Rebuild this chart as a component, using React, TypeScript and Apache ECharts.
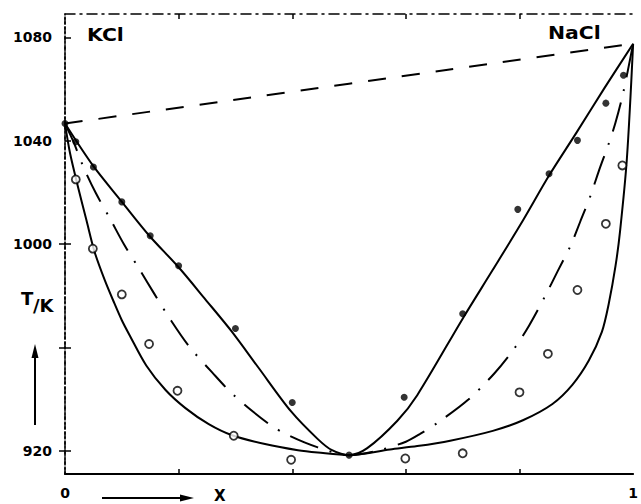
import React, { useEffect, useRef } from "react";
import * as echarts from "echarts";

// ---- data ----
const xTickValues = [0.2, 0.4, 0.6, 0.8];
const xLabelValues = [0, 1];
const yTickValues = [920, 960, 1000, 1040, 1080];
const yLabelValues = [920, 1000, 1040, 1080];
const yRightTickValues = [920, 960, 1000];

const idealLine: number[][] = [
  [0, 1046.6],
  [1, 1077.5],
];

const upperCurve: number[][] = [
  [0, 1046.6], [0.049, 1030.4], [0.099, 1016.6], [0.148, 1003.3], [0.2, 991],
  [0.247, 978.6], [0.294, 966], [0.34, 952.3], [0.398, 935.2], [0.445, 924.5],
  [0.47, 920.2], [0.5, 918.3], [0.532, 921], [0.585, 931.6], [0.62, 941.5],
  [0.701, 971.5], [0.753, 990], [0.806, 1009.1], [0.852, 1026.5], [0.9, 1043],
  [0.95, 1060.5], [1, 1077.5],
];

const lowerCurve: number[][] = [
  [0, 1046.6], [0.009, 1035], [0.023, 1022], [0.038, 1009], [0.052, 997],
  [0.07, 986], [0.087, 977], [0.1, 970.5], [0.113, 965], [0.143, 953],
  [0.177, 943.5], [0.212, 936.5], [0.253, 930.3], [0.294, 926], [0.352, 922.6],
  [0.41, 920.2], [0.445, 919.3], [0.5, 918.3], [0.572, 920.5], [0.62, 921.8],
  [0.678, 923.9], [0.753, 927.7], [0.806, 931.8], [0.858, 938.1], [0.893, 945.5],
  [0.922, 954.9], [0.945, 966], [0.957, 976.8], [0.969, 991.5], [0.977, 1005],
  [0.989, 1033], [1, 1077.5],
];

const dashDotCurve: number[][] = [
  [0, 1046.6], [0.015, 1039.5], [0.032, 1030], [0.054, 1019.8], [0.08, 1009.5],
  [0.104, 999.8], [0.131, 990.2], [0.157, 980.8], [0.186, 970.6], [0.218, 960.5],
  [0.259, 950.3], [0.297, 941.5], [0.358, 930.5], [0.393, 926], [0.445, 921.3],
  [0.5, 918.3], [0.55, 920], [0.6, 923.5], [0.625, 926.5], [0.657, 931],
  [0.71, 939.8], [0.756, 950], [0.791, 959.6], [0.817, 968.5], [0.844, 979.4],
  [0.867, 989.4], [0.89, 999.4], [0.9075, 1009], [0.925, 1018.7], [0.94, 1028.5],
  [0.957, 1038.8], [0.969, 1047], [0.983, 1059], [1, 1077.5],
];

const filledPoints: number[][] = [
  [0, 1046.6], [0.019, 1039.6], [0.05, 1029.8], [0.1, 1016.3], [0.15, 1003.2],
  [0.2, 991.6], [0.3, 967.3], [0.4, 938.7], [0.5, 918.3], [0.597, 940.7],
  [0.7, 973], [0.797, 1013.4], [0.852, 1027.2], [0.902, 1040.1], [0.952, 1054.5],
  [0.983, 1065.3],
];

const openPoints: number[][] = [
  [0.019, 1025], [0.049, 998.2], [0.1, 980.5], [0.148, 961.3], [0.198, 943.2],
  [0.297, 925.8], [0.398, 916.5], [0.599, 917], [0.7, 919], [0.8, 942.6],
  [0.85, 957.5], [0.902, 982.2], [0.952, 1007.8], [0.981, 1030.4],
];

const FONT = "DejaVu Sans";

export default function App() {
  const ref = useRef<HTMLDivElement>(null);

  useEffect(() => {
    if (!ref.current) return;
    const chart = echarts.init(ref.current, undefined, { renderer: "svg" });
    const black = "#000";
    const lineSeries = (data: number[][], type: any, width = 2) => ({
      type: "line",
      data,
      showSymbol: false,
      symbol: "none",
      smooth: 0.3,
      lineStyle: { color: black, width, type },
      silent: true,
      z: 2,
    });
    chart.setOption({
      animation: false,
      backgroundColor: "#fff",
      grid: { left: 65, right: 3, top: 14, bottom: 30, containLabel: false },
      xAxis: [
        {
          type: "value",
          min: 0,
          max: 1,
          position: "bottom",
          axisLine: { show: true, lineStyle: { color: black, width: 2 } },
          axisTick: {
            show: true,
            inside: true,
            length: 5,
            customValues: xTickValues,
            lineStyle: { color: black, width: 1.5 },
          },
          axisLabel: {
            show: true,
            customValues: xLabelValues,
            margin: 12,
            color: black,
            fontFamily: FONT,
            fontWeight: "bold",
            fontSize: 14,
            formatter: (v: number) => String(v),
          },
          splitLine: { show: false },
        },
        {
          type: "value",
          min: 0,
          max: 1,
          position: "top",
          axisLine: {
            show: true,
            lineStyle: { color: black, width: 1.5, type: [10, 5, 2, 5] },
          },
          axisTick: {
            show: true,
            inside: true,
            length: 5,
            customValues: xTickValues,
            lineStyle: { color: black, width: 1.5 },
          },
          axisLabel: { show: false },
          splitLine: { show: false },
        },
      ],
      yAxis: [
        {
          type: "value",
          min: 911,
          max: 1089,
          position: "left",
          axisLine: {
            show: true,
            lineStyle: { color: black, width: 1.5, type: [2, 3] },
          },
          axisTick: {
            show: true,
            inside: true,
            length: 6,
            customValues: yTickValues,
            lineStyle: { color: black, width: 1.5 },
          },
          axisLabel: {
            show: true,
            customValues: yLabelValues,
            margin: 13,
            color: black,
            fontFamily: FONT,
            fontWeight: "bold",
            fontSize: 14,
            formatter: (v: number) => String(v),
          },
          splitLine: { show: false },
        },
        {
          type: "value",
          min: 911,
          max: 1089,
          position: "right",
          axisLine: {
            show: true,
            lineStyle: { color: black, width: 1.5, type: [6, 3] },
          },
          axisTick: {
            show: true,
            inside: true,
            length: 6,
            customValues: yRightTickValues,
            lineStyle: { color: black, width: 1.5 },
          },
          axisLabel: { show: false },
          splitLine: { show: false },
        },
      ],
      series: [
        lineSeries(idealLine, [18, 16], 2),
        lineSeries(upperCurve, "solid", 2),
        lineSeries(lowerCurve, "solid", 2),
        lineSeries(dashDotCurve, [30, 12, 2, 12], 2),
        {
          type: "scatter",
          data: filledPoints,
          symbol: "circle",
          symbolSize: 7,
          itemStyle: { color: black },
          silent: true,
          z: 3,
        },
        {
          type: "scatter",
          data: openPoints,
          symbol: "circle",
          symbolSize: 8,
          itemStyle: { color: "#fff", borderColor: black, borderWidth: 1.8 },
          silent: true,
          z: 3,
        },
      ],
      graphic: [
        {
          type: "text",
          x: 87,
          y: 27,
          scaleX: 1.2,
          style: {
            text: "KCl",
            fill: black,
            font: `bold 17px "${FONT}"`,
            textVerticalAlign: "top",
          },
        },
        {
          type: "text",
          x: 548,
          y: 25,
          scaleX: 1.2,
          style: {
            text: "NaCl",
            fill: black,
            font: `bold 17px "${FONT}"`,
            textVerticalAlign: "top",
          },
        },
        {
          type: "text",
          x: 21,
          y: 289,
          style: {
            text: "T",
            fill: black,
            font: `bold 18px "${FONT}"`,
            textVerticalAlign: "top",
          },
        },
        {
          type: "text",
          x: 33,
          y: 296,
          style: {
            text: "/K",
            fill: black,
            font: `bold 18px "${FONT}"`,
            textVerticalAlign: "top",
          },
        },
        {
          type: "text",
          x: 214,
          y: 496,
          style: {
            text: "X",
            fill: black,
            font: `bold 15px "${FONT}"`,
            textVerticalAlign: "middle",
          },
        },
        {
          type: "line",
          shape: { x1: 102, y1: 498, x2: 184, y2: 498 },
          style: { stroke: black, lineWidth: 2 },
        },
        {
          type: "polygon",
          shape: { points: [[180, 494.5], [194, 498], [180, 501.5]] },
          style: { fill: black },
        },
        {
          type: "line",
          shape: { x1: 35, y1: 425, x2: 35, y2: 354 },
          style: { stroke: black, lineWidth: 2 },
        },
        {
          type: "polygon",
          shape: { points: [[31.5, 358], [35, 344], [38.5, 358]] },
          style: { fill: black },
        },
      ],
    });
    return () => chart.dispose();
  }, []);

  return (
    <div
      ref={ref}
      style={{ position: "fixed", left: 0, top: 0, width: 641, height: 504, background: "#fff" }}
    />
  );
}
